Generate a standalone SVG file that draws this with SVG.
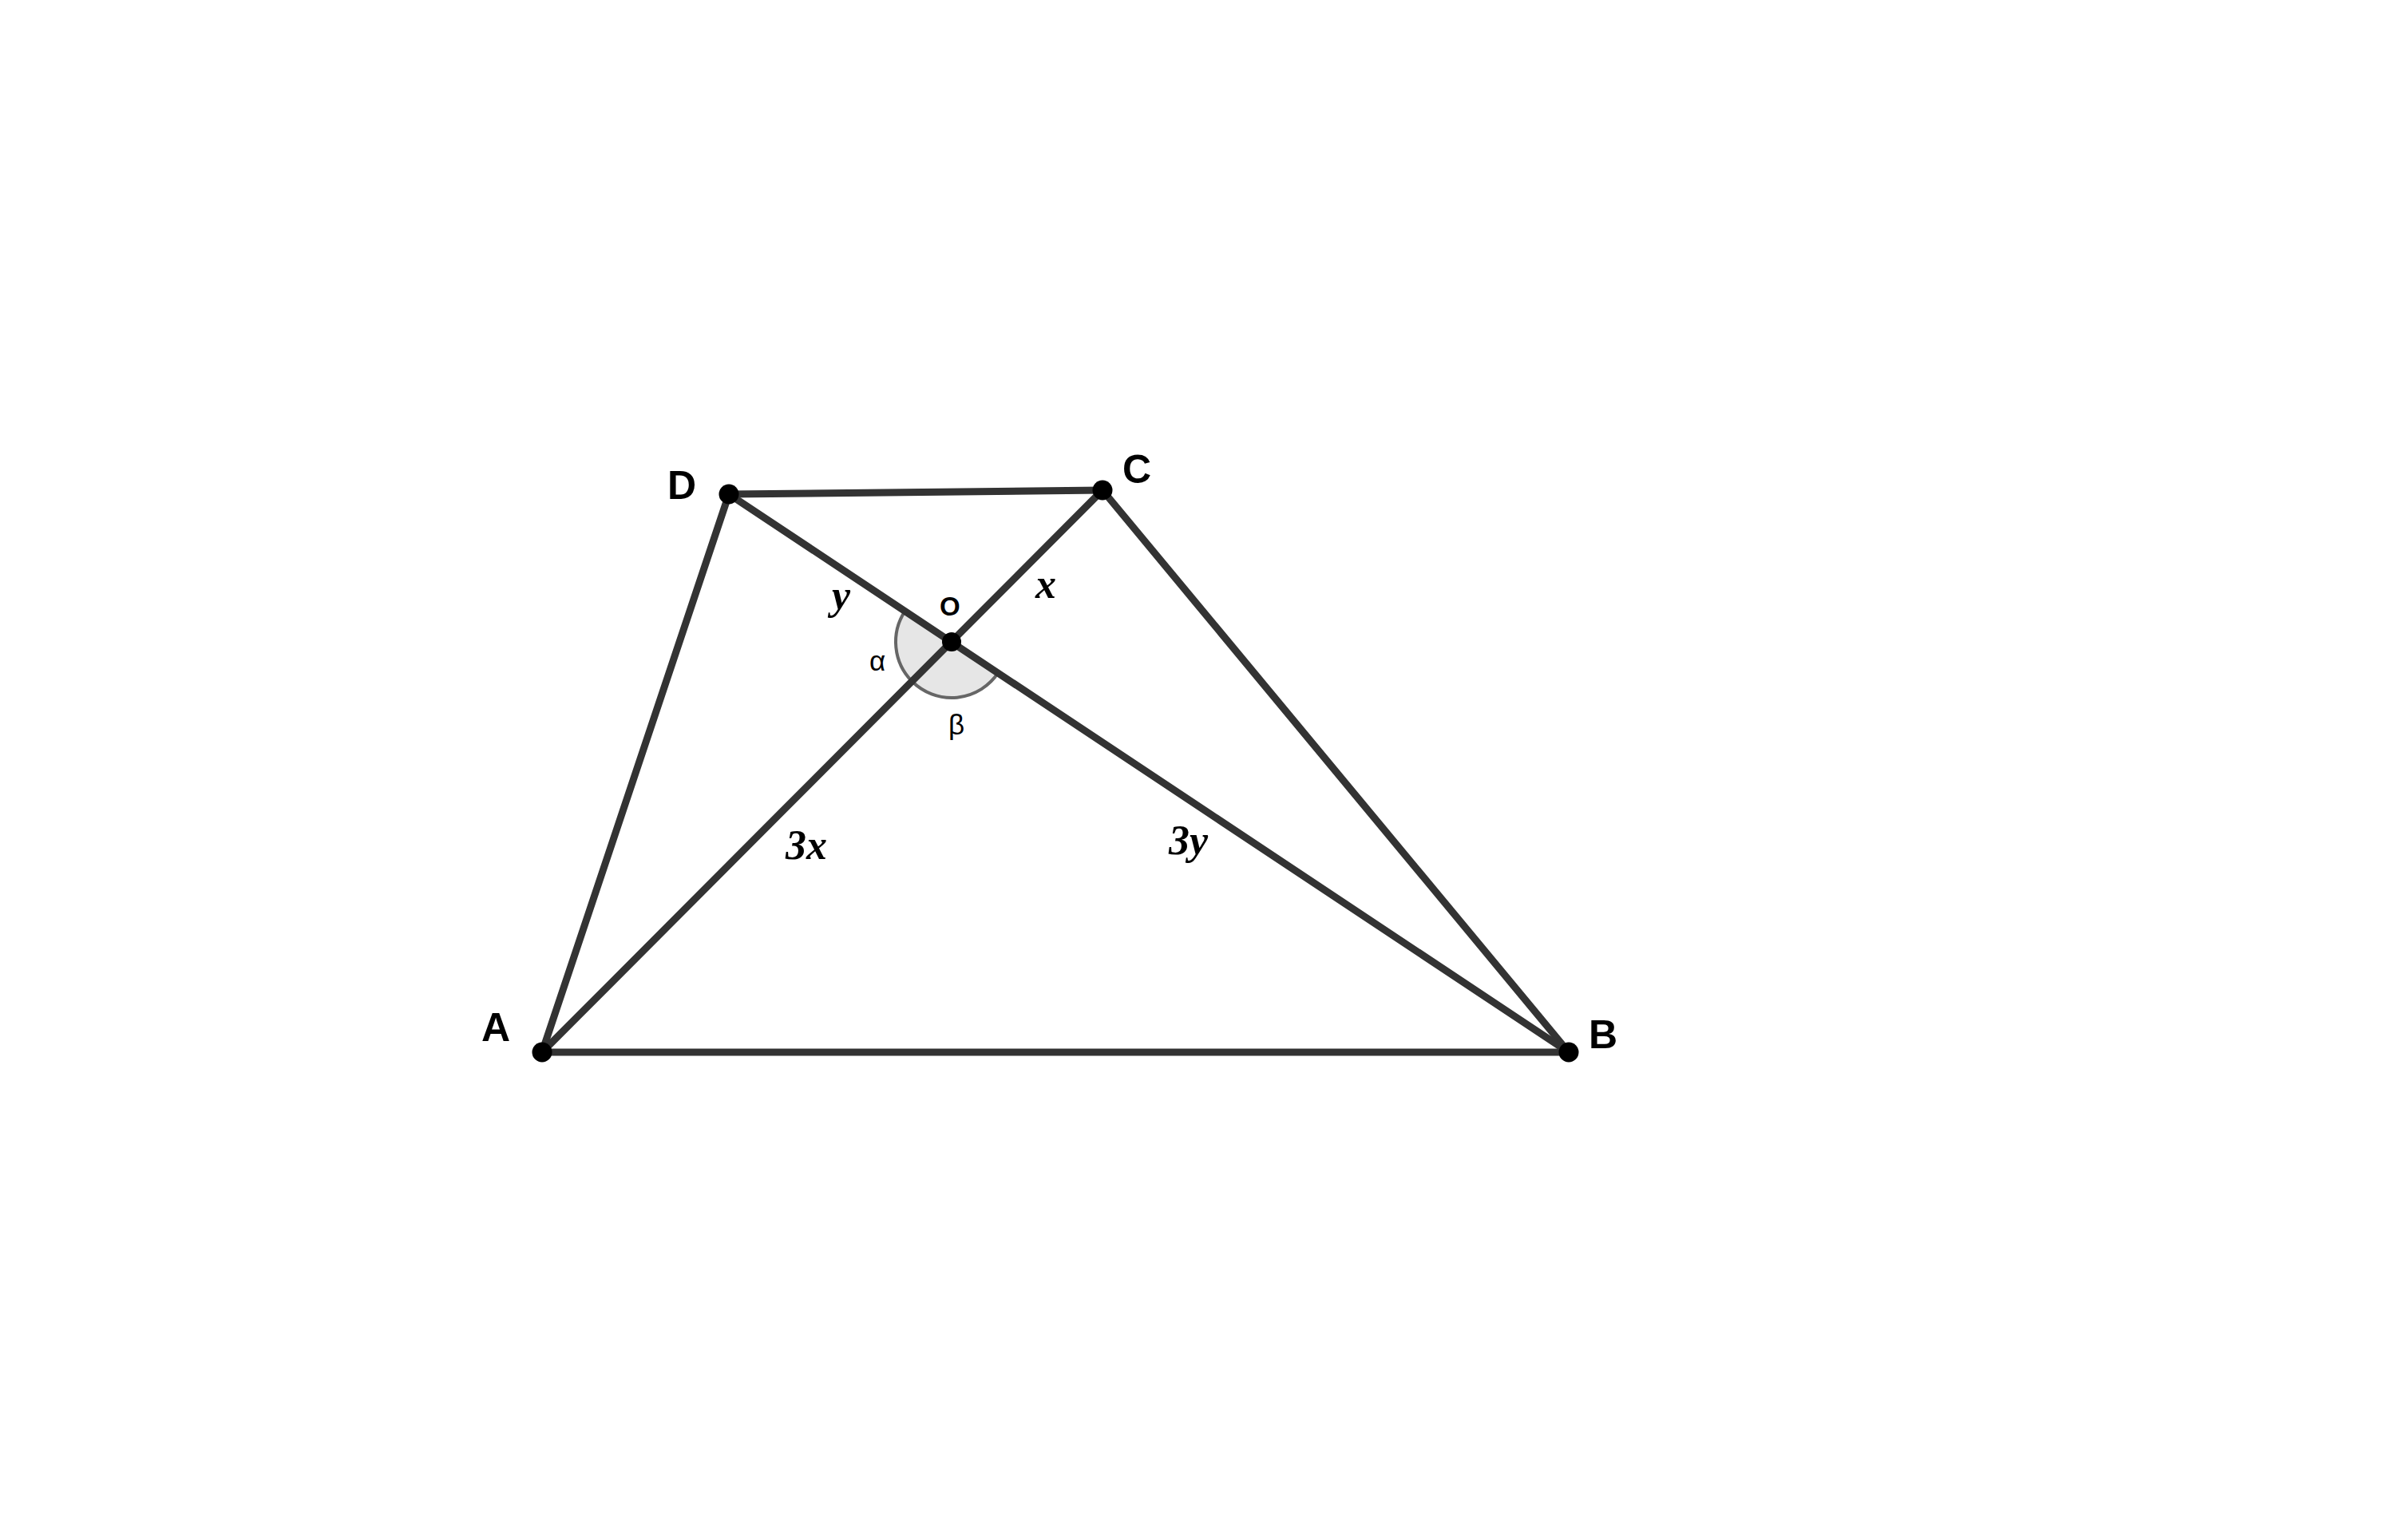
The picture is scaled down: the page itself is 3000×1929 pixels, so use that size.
<svg xmlns="http://www.w3.org/2000/svg" width="3000" height="1929" viewBox="0 0 3000 1929">
<style>
.seg{stroke:#333333;stroke-width:9;stroke-linecap:round;fill:none}
.ang{fill:#e6e6e6;stroke:#666666;stroke-width:4}
.pt{fill:#000000}
.lbl{font-family:"Liberation Sans",Arial,sans-serif;font-weight:bold;font-size:50px;fill:#000}
.small{font-family:"Liberation Sans",Arial,sans-serif;font-size:35px;fill:#000}
.ital{font-family:"Liberation Serif","Times New Roman",serif;font-style:italic;font-weight:bold;font-size:52px;fill:#000}
</style>
<rect width="3000" height="1929" fill="#ffffff"/>
<g id="angles">
<path class="ang" d="M1192,804 L1133.7,765.3 A70,70 0 0 0 1142.5,853.5 Z"/>
<path class="ang" d="M1192,804 L1142.5,853.5 A70,70 0 0 0 1250.3,842.7 Z"/>
</g>
<g id="connectors">
<line class="seg" x1="679" y1="1318" x2="1965" y2="1318"/>
<line class="seg" x1="1965" y1="1318" x2="1381" y2="614"/>
<line class="seg" x1="1381" y1="614" x2="913" y2="619"/>
<line class="seg" x1="913" y1="619" x2="679" y2="1318"/>
<line class="seg" x1="679" y1="1318" x2="1381" y2="614"/>
<line class="seg" x1="1965" y1="1318" x2="913" y2="619"/>
</g>
<g id="A"><circle class="pt" cx="679" cy="1318" r="12.5"/><text class="lbl" x="603" y="1304">A</text></g>
<g id="B"><circle class="pt" cx="1965" cy="1318" r="12.5"/><text class="lbl" x="1990" y="1313">B</text></g>
<g id="C"><circle class="pt" cx="1381" cy="614" r="12.5"/><text class="lbl" x="1406" y="605">C</text></g>
<g id="D"><circle class="pt" cx="913" cy="619" r="12.5"/><text class="lbl" x="836" y="625">D</text></g>
<g id="O"><circle class="pt" cx="1192" cy="804" r="12"/><text class="lbl" x="1177" y="771" style="font-size:33px">O</text></g>
<g id="labels">
<text class="small" x="1089" y="840">α</text>
<text class="small" x="1188" y="920">β</text>
<text class="ital" x="1042" y="763">y</text>
<text class="ital" x="1297" y="749">x</text>
<text class="ital" x="984" y="1076">3x</text>
<text class="ital" x="1464" y="1070">3y</text>
</g>
</svg>
